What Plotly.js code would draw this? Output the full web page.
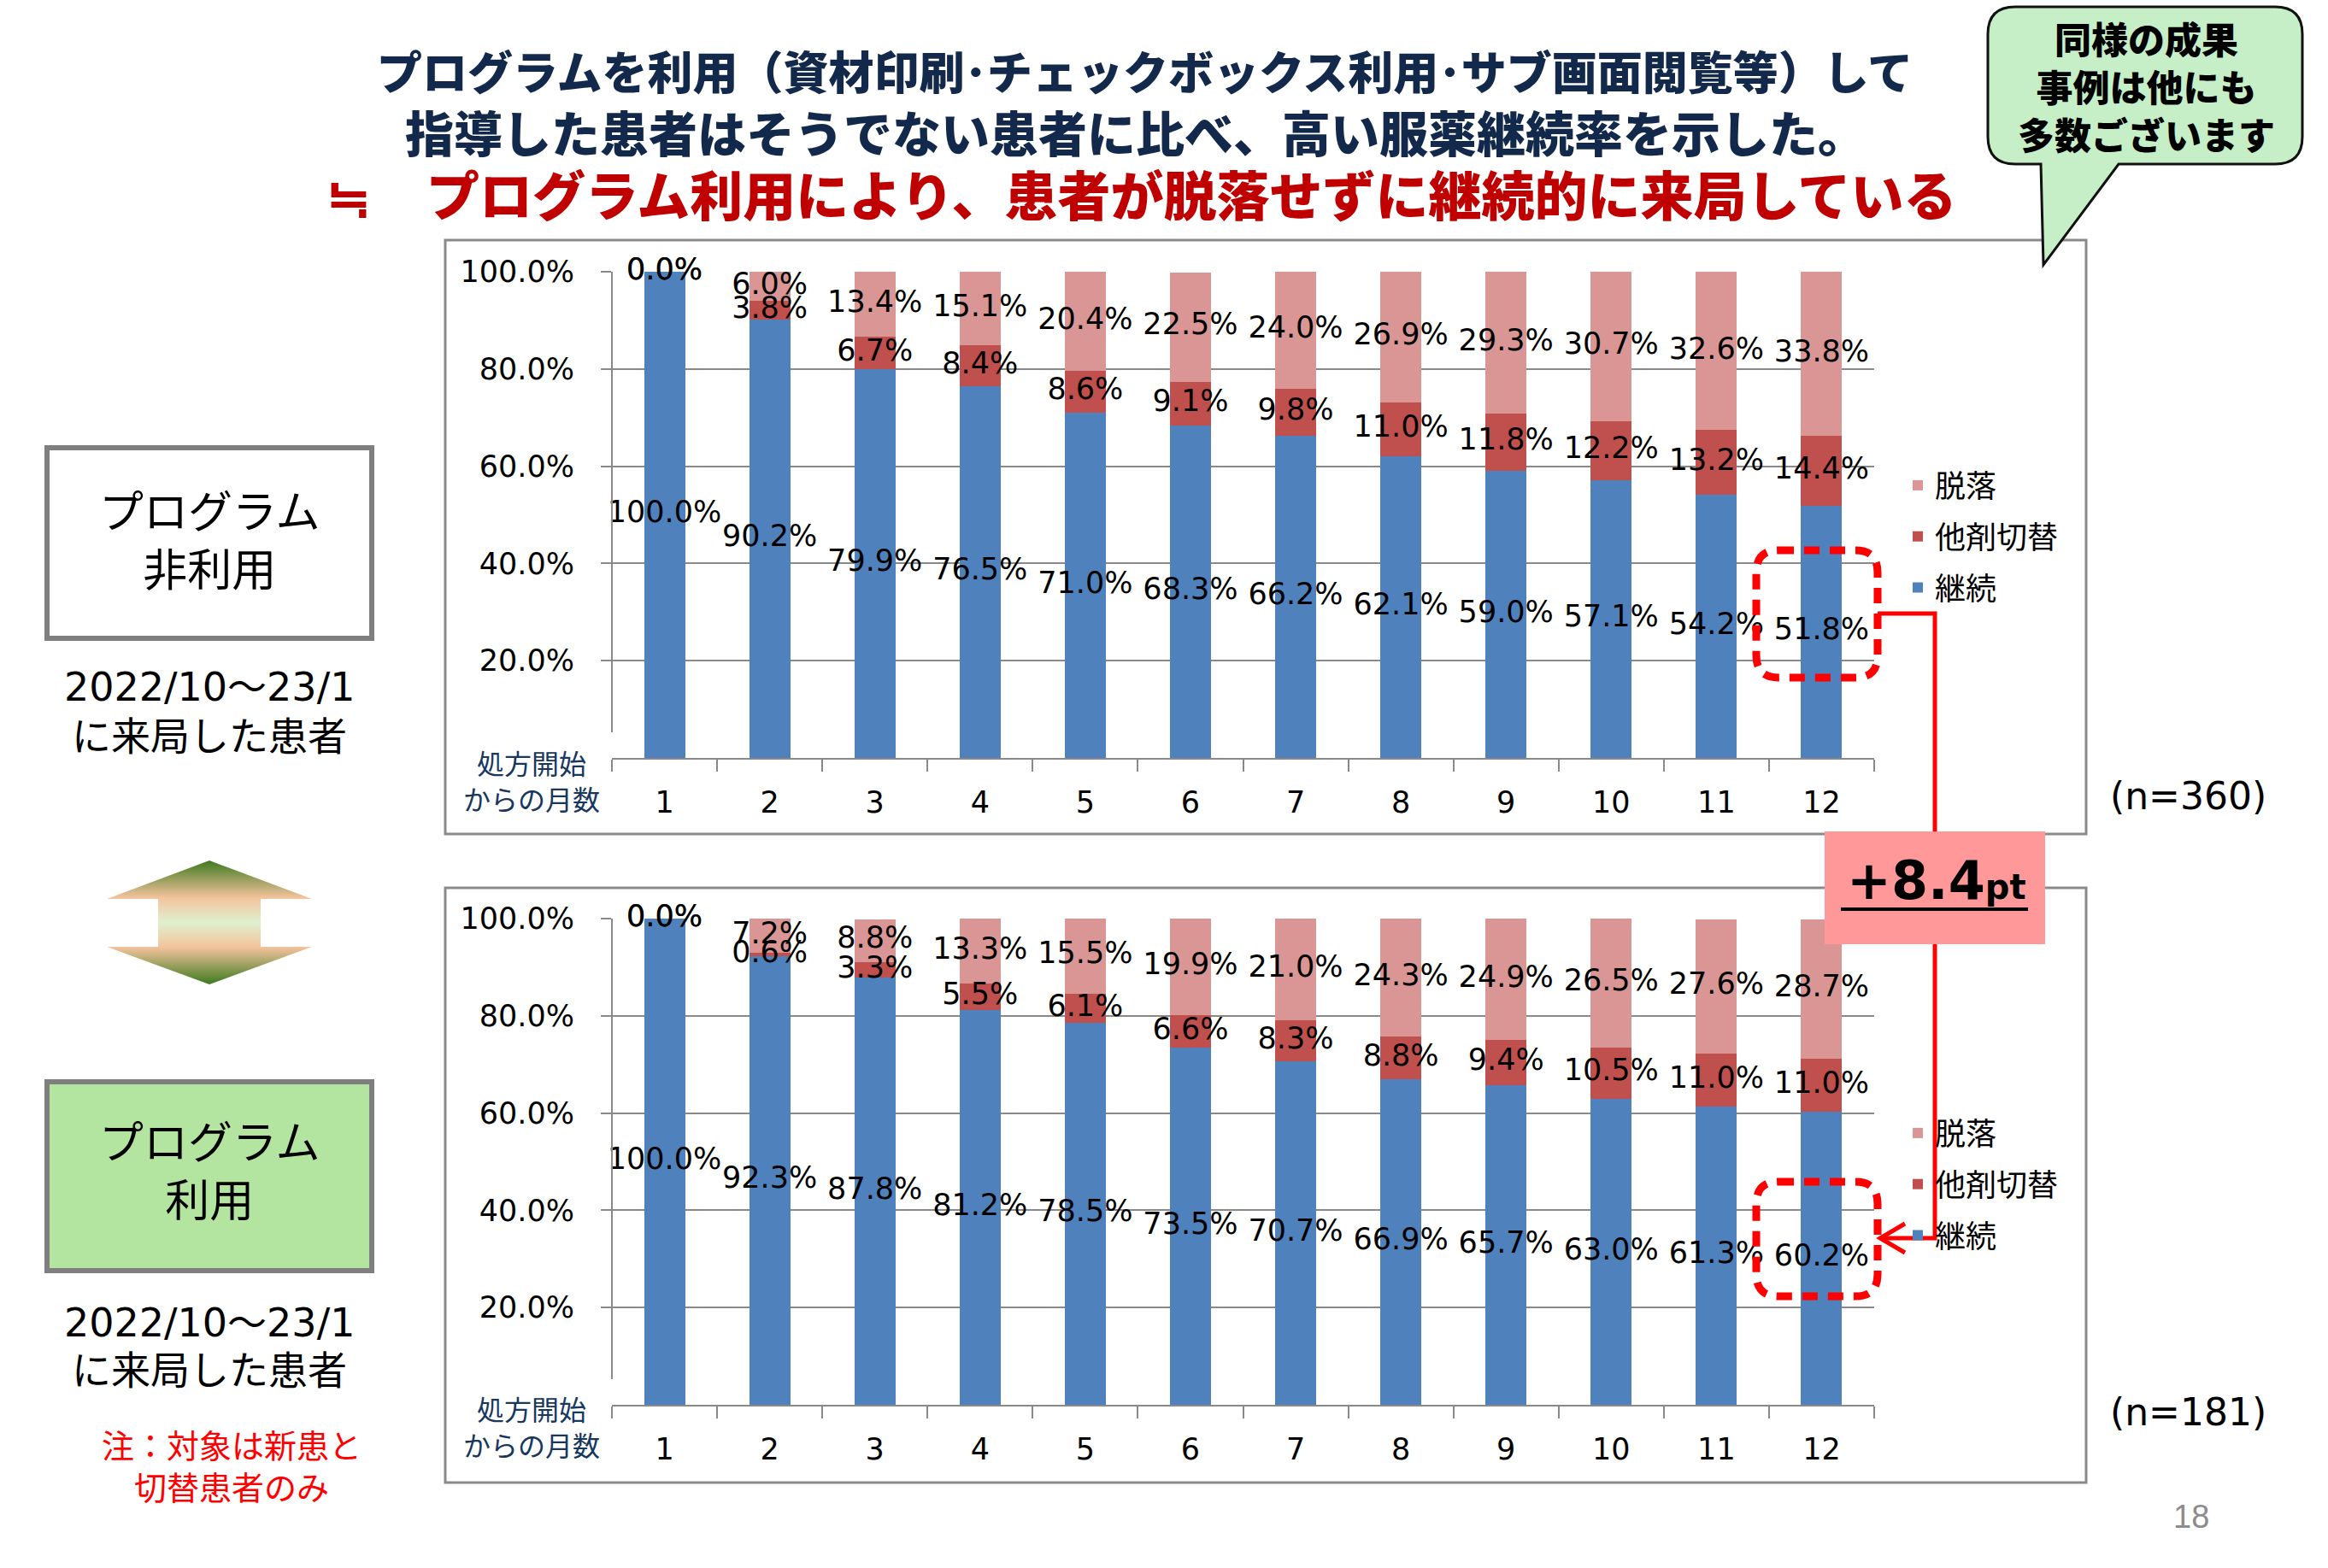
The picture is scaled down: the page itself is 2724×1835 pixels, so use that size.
<!DOCTYPE html>
<html><head><meta charset="utf-8">
<script src="https://cdn.plot.ly/plotly-3.0.1.min.js"></script>
<style>html,body{margin:0;padding:0;background:#fff}#chart{width:2724px;height:1835px}</style>
</head><body><div id="chart"></div>
<script>
// ---------------- data ----------------
const months = ['1','2','3','4','5','6','7','8','9','10','11','12'];
const seriesNames = ['継続','他剤切替','脱落'];
const seriesColors = ['#4F81BD','#C0504D','#D99694'];
const legendRanks = [3, 2, 1];
// プログラム非利用 (n=360)
const nonUseContinue = [100.0, 90.2, 79.9, 76.5, 71.0, 68.3, 66.2, 62.1, 59.0, 57.1, 54.2, 51.8];
const nonUseSwitch   = [0.0, 3.8, 6.7, 8.4, 8.6, 9.1, 9.8, 11.0, 11.8, 12.2, 13.2, 14.4];
const nonUseDrop     = [0.0, 6.0, 13.4, 15.1, 20.4, 22.5, 24.0, 26.9, 29.3, 30.7, 32.6, 33.8];
// プログラム利用 (n=181)
const useContinue = [100.0, 92.3, 87.8, 81.2, 78.5, 73.5, 70.7, 66.9, 65.7, 63.0, 61.3, 60.2];
const useSwitch   = [0.0, 0.6, 3.3, 5.5, 6.1, 6.6, 8.3, 8.8, 9.4, 10.5, 11.0, 11.0];
const useDrop     = [0.0, 7.2, 8.8, 13.3, 15.5, 19.9, 21.0, 24.3, 24.9, 26.5, 27.6, 28.7];
const yTickVals = [20, 40, 60, 80, 100];
const yTickText = ['20.0%', '40.0%', '60.0%', '80.0%', '100.0%'];
const sampleSizes = ['(n=360)', '(n=181)'];
const diffLabel = '+8.4';

// ---------------- page geometry (px) ----------------
const W = 2724, H = 1835;
const NUM_FONT = 'DejaVu Sans, Verdana, sans-serif';
const JP_FONT = 'Noto Sans CJK JP, sans-serif';
const GRID = '#898989';

function fmt(v){ return v.toFixed(1) + '%'; }

function panelTraces(cont, sw, drop, xa, ya, legendId, gp){
  const vals = [cont, sw, drop];
  const traces = [];
  vals.forEach((arr, i) => {
    traces.push({
      type: 'bar', x: months, y: arr, name: seriesNames[i],
      marker: {color: seriesColors[i], line: {width: 0}},
      xaxis: xa, yaxis: ya, legend: legendId, legendgroup: gp + i, legendrank: legendRanks[i],
      hoverinfo: 'skip', textposition: 'none'
    });
  });
  // centered data labels
  vals.forEach((arr, i) => {
    const centers = arr.map((v, k) => {
      let base = 0;
      for (let j = 0; j < i; j++) base += vals[j][k];
      return base + v / 2;
    });
    traces.push({
      type: 'scatter', mode: 'text', x: months, y: centers,
      text: arr.map(fmt), textposition: 'middle center',
      textfont: {family: NUM_FONT, size: 35, color: '#000'},
      xaxis: xa, yaxis: ya, showlegend: false, cliponaxis: false, hoverinfo: 'skip'
    });
  });
  return traces;
}

// arrow (decoration) in page pixel coordinates
const arrowX = [245, 365, 305, 305, 365, 245, 125, 185, 185, 125, 245];
const arrowY = [1007, 1052, 1052, 1108, 1108, 1152, 1108, 1108, 1052, 1052, 1007];

const data = [
  ...panelTraces(nonUseContinue, nonUseSwitch, nonUseDrop, 'x', 'y', 'legend', 'a'),
  ...panelTraces(useContinue, useSwitch, useDrop, 'x2', 'y2', 'legend2', 'b'),
  {
    type: 'scatter', mode: 'lines', x: arrowX, y: arrowY, xaxis: 'x3', yaxis: 'y3',
    fill: 'toself', line: {width: 0, color: 'rgba(0,0,0,0)'}, showlegend: false, hoverinfo: 'skip',
    fillgradient: {type: 'vertical', colorscale: [
      [0, '#3d7a1f'], [0.3, '#f3c39c'], [0.5, '#def0cf'], [0.7, '#f3c39c'], [1, '#3d7a1f']
    ]}
  }
];

const xDomain = [716 / W, 2193 / W];
function xAx(anchor){
  return {
    domain: xDomain, anchor: anchor, type: 'category', range: [-0.5, 11.5],
    showline: true, linecolor: GRID, linewidth: 2, showgrid: false, zeroline: false,
    ticks: 'outside', tickson: 'boundaries', ticklen: 14, tickwidth: 2, tickcolor: GRID,
    tickfont: {family: NUM_FONT, size: 35, color: '#000'}, ticklabelstandoff: 20, fixedrange: true
  };
}
function yAx(anchor, top, bottom){
  return {
    domain: [1 - bottom / H, 1 - top / H], anchor: anchor, range: [0, 100],
    tickmode: 'array', tickvals: yTickVals, ticktext: yTickText,
    showline: false, showgrid: true, gridcolor: GRID, gridwidth: 2, zeroline: false,
    ticks: 'outside', ticklen: 12, tickwidth: 2, tickcolor: GRID,
    tickfont: {family: NUM_FONT, size: 35, color: '#000'}, ticklabelstandoff: 24, fixedrange: true
  };
}

function rr(x0, y0, x1, y1, r){
  return `M ${x0 + r} ${y0} H ${x1 - r} Q ${x1} ${y0} ${x1} ${y0 + r} V ${y1 - r} Q ${x1} ${y1} ${x1 - r} ${y1} ` +
         `H ${x0 + r} Q ${x0} ${y1} ${x0} ${y1 - r} V ${y0 + r} Q ${x0} ${y0} ${x0 + r} ${y0} Z`;
}
const P = {xref: 'x3', yref: 'y3'};
const shapes = [
  // chart frames
  {...P, type: 'rect', x0: 521, x1: 2441, y0: 281, y1: 976, line: {color: '#8a8a8a', width: 3}, layer: 'below'},
  {...P, type: 'rect', x0: 521, x1: 2441, y0: 1039, y1: 1735, line: {color: '#8a8a8a', width: 3}, layer: 'below'},
  // value axis lines (Excel-style, stopping short of the category axis)
  {...P, type: 'line', x0: 716, x1: 716, y0: 318, y1: 857, line: {color: GRID, width: 2}},
  {...P, type: 'line', x0: 716, x1: 716, y0: 1075, y1: 1614, line: {color: GRID, width: 2}},
  // left boxes
  {...P, type: 'rect', x0: 55, x1: 435, y0: 524, y1: 747, fillcolor: '#ffffff', line: {color: '#7f7f7f', width: 6}},
  {...P, type: 'rect', x0: 55, x1: 435, y0: 1266, y1: 1487, fillcolor: '#B3E5A1', line: {color: '#7f7f7f', width: 6}},
  // speech bubble
  {...P, type: 'path', fillcolor: '#c6efc8', line: {color: '#111', width: 3},
   path: 'M 2358 8 H 2662 Q 2694 8 2694 40 V 160 Q 2694 192 2662 192 H 2479 L 2391 310 L 2388 192 H 2358 Q 2326 192 2326 160 V 40 Q 2326 8 2358 8 Z'},
  // red connector
  {...P, type: 'path', path: 'M 2197 718 H 2264 V 1449 H 2201', line: {color: '#FF0000', width: 5}},
  {...P, type: 'path', path: 'M 2229 1432 L 2200 1449 L 2229 1466', line: {color: '#FF0000', width: 5}},
  // +8.4pt box
  {...P, type: 'rect', x0: 2135, x1: 2393, y0: 973, y1: 1105, fillcolor: '#FF9999', line: {width: 0}},
  {...P, type: 'line', x0: 2154, x1: 2373, y0: 1064, y1: 1064, line: {color: '#000', width: 4}},
  // red dotted highlight boxes
  {...P, type: 'path', path: rr(2055, 644, 2197, 793, 26), line: {color: '#FF0000', width: 9, dash: '18px,12px'}},
  {...P, type: 'path', path: rr(2055, 1383, 2197, 1517, 26), line: {color: '#FF0000', width: 9, dash: '18px,12px'}}
];

function ann(x, y, text, font, extra){
  return Object.assign({...P, x: x, y: y, text: text, showarrow: false, xanchor: 'center', yanchor: 'middle', font: font}, extra || {});
}
const annotations = [
  ann(1339, 82, 'プログラムを利用（資材印刷･チェックボックス利用･サブ画面閲覧等）して',
      {family: JP_FONT, size: 53, weight: 900, color: '#13294B'}),
  ann(1329, 153, '指導した患者はそうでない患者に比べ、高い服薬継続率を示した。',
      {family: JP_FONT, size: 57, weight: 900, color: '#13294B'}),
  ann(408, 226, '≒', {family: JP_FONT, size: 62, weight: 900, color: '#C00000'}),
  ann(1394, 226, 'プログラム利用により、患者が脱落せずに継続的に来局している',
      {family: JP_FONT, size: 62, weight: 900, color: '#C00000'}),
  ann(2511, 100, '同様の成果<br>事例は他にも<br>多数ございます',
      {family: JP_FONT, size: 43, weight: 900, color: '#000'}),
  ann(245, 629, 'プログラム<br>非利用', {family: JP_FONT, size: 52, color: '#000'}),
  ann(245, 804, '2022/10～23/1', {family: NUM_FONT + ', ' + JP_FONT, size: 46, color: '#000'}),
  ann(245, 858, 'に来局した患者', {family: JP_FONT, size: 46, color: '#000'}),
  ann(245, 1367, 'プログラム<br>利用', {family: JP_FONT, size: 52, color: '#000'}),
  ann(245, 1548, '2022/10～23/1', {family: NUM_FONT + ', ' + JP_FONT, size: 46, color: '#000'}),
  ann(245, 1600, 'に来局した患者', {family: JP_FONT, size: 46, color: '#000'}),
  ann(271, 1714, '注：対象は新患と<br>切替患者のみ', {family: JP_FONT, size: 38, color: '#FF0000'}),
  ann(622, 913, '処方開始<br>からの月数', {family: JP_FONT, size: 32, color: '#17375E'}),
  ann(622, 1669, '処方開始<br>からの月数', {family: JP_FONT, size: 32, color: '#17375E'}),
  ann(2560, 931, sampleSizes[0], {family: NUM_FONT, size: 44, color: '#000'}),
  ann(2560, 1652, sampleSizes[1], {family: NUM_FONT, size: 44, color: '#000'}),
  ann(2266, 1030, diffLabel + '<span style="font-size:40px">pt</span>',
      {family: NUM_FONT, size: 62, weight: 700, color: '#000'}),
  ann(2564, 1775, '18', {family: 'Liberation Sans, Arial, sans-serif', size: 38, color: '#8c8c8c'})
];

const legendBase = {
  xanchor: 'left', yanchor: 'top', orientation: 'v', traceorder: 'grouped',
  tracegroupgap: 10, bgcolor: 'rgba(0,0,0,0)', borderwidth: 0,
  font: {family: JP_FONT, size: 36, color: '#000'}
};

const layout = {
  width: W, height: H, margin: {l: 0, r: 0, t: 0, b: 0},
  paper_bgcolor: '#ffffff', plot_bgcolor: 'rgba(0,0,0,0)',
  barmode: 'stack', bargap: 0.61, showlegend: true, hovermode: false,
  font: {family: NUM_FONT, color: '#000'},
  xaxis: xAx('y'), yaxis: yAx('x', 318, 887),
  xaxis2: xAx('y2'), yaxis2: yAx('x2', 1075, 1644),
  xaxis3: {domain: [0, 1], anchor: 'y3', range: [0, W], visible: false, fixedrange: true},
  yaxis3: {domain: [0, 1], anchor: 'x3', range: [H, 0], visible: false, fixedrange: true},
  legend: Object.assign({x: 2224 / W, y: 1 - 538 / H}, legendBase),
  legend2: Object.assign({x: 2224 / W, y: 1 - 1296 / H}, legendBase),
  shapes: shapes, annotations: annotations
};

Plotly.newPlot('chart', data, layout, {staticPlot: true, displayModeBar: false});
</script>
</body></html>
